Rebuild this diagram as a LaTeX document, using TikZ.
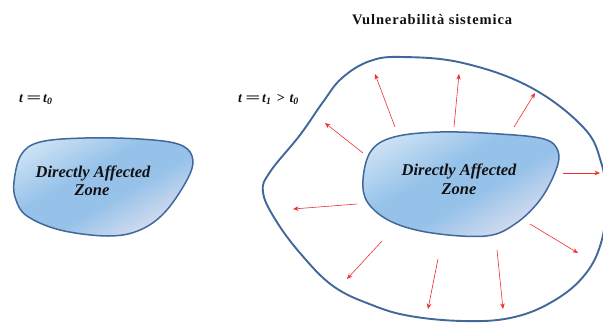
\documentclass[tikz,border=0pt]{standalone}
\usepackage{fontspec}
\usepackage{graphicx}
\setmainfont{Liberation Serif}
\newfontfamily\titlefont[LetterSpace=6]{Liberation Serif}
\usetikzlibrary{arrows.meta}

\definecolor{edgeblue}{HTML}{41689A}
\definecolor{zonelight}{HTML}{CDE2F4}
\definecolor{zonemid}{HTML}{96C2E9}
\definecolor{zonepale}{HTML}{E6E3F1}
\definecolor{spreadred}{RGB}{240,45,45}
\definecolor{inkblack}{HTML}{111111}

% light corner, a band of stronger blue, pale lavender corner
\pgfdeclarehorizontalshading{zonefill}{100bp}{
  color(0bp)=(zonelight); color(22bp)=(zonelight);
  color(42bp)=(zonemid); color(56bp)=(zonemid);
  color(78bp)=(zonepale); color(100bp)=(zonepale)}

\tikzset{
  zone/.style={draw=edgeblue, line width=1.5pt,
    shading=zonefill, shading angle=-60},
  boundary/.style={draw=edgeblue, line width=1.9pt},
  spread/.style={draw=spreadred, line width=0.6pt,
    -{Stealth[length=5.5pt,width=4.5pt]}},
  zonetext/.style={anchor=base, inner sep=0pt, text=inkblack,
    font=\fontsize{16.5}{20}\selectfont\bfseries\itshape},
  timelabel/.style={anchor=base west, inner sep=0pt, text=inkblack,
    font=\fontsize{14}{16}\selectfont\bfseries\itshape},
  titlelabel/.style={anchor=base west, inner sep=0pt, text=inkblack,
    font=\fontsize{14.5}{16}\titlefont\bfseries},
}
\newcommand{\wideeq}{\hspace{3pt}\scalebox{1.9}[1]{=}\hspace{2pt}}
\newcommand{\gtsign}{\hspace{5pt}>\hspace{5pt}}

\begin{document}
\begin{tikzpicture}[x=1pt,y=-1pt]
\useasboundingbox (0,0) rectangle (603,322);

% title
\node[titlelabel] (title) at (352,24) {Vulnerabilità sistemica};

% time labels
\node[timelabel] (tzero) at (19,102) {t\wideeq t\textsubscript{0}};
\node[timelabel] (tone) at (238,102) {t\wideeq t\textsubscript{1}\gtsign t\textsubscript{0}};

% outer boundary of the systemic vulnerability
\begin{scope}
  \clip (0,0) rectangle (603,322);
  \draw[boundary] plot[smooth cycle, tension=0.65] coordinates {
    (403,57) (463,63) (530,87) (583,127) (601,162) (606,200) (601,243)
    (583,277) (550,303) (510,318) (463,321) (410,316) (372,305) (333,286)
    (300,253) (275,219) (263,192) (270,172) (300,135) (323,102) (342,78)
    (370,61)};
\end{scope}

% directly affected zone at t0
\draw[zone] plot[smooth cycle, tension=0.6] coordinates {
  (14,182) (21,155) (40,142) (85,138) (140,139) (178,144) (192,156)
  (189,176) (166,211) (140,230) (108,236) (60,230) (27,216) (16,200)};
\node[zonetext] (zlA) at (93,177) {Directly Affected};
\node[zonetext] (zlB) at (92,195) {Zone};

% directly affected zone at t1
\draw[zone] plot[smooth cycle, tension=0.6] coordinates {
  (363,180) (371,151) (394,137) (440,132) (500,134) (544,139) (558,151)
  (556,170) (540,200) (515,224) (486,236) (432,233) (392,222) (368,203)};
\node[zonetext] (zrA) at (459,175) {Directly Affected};
\node[zonetext] (zrB) at (459,194) {Zone};

% spreading arrows
\foreach \i/\sx/\sy/\ex/\ey in {
  1/395/127/375/74, 2/454/127/459/74, 3/514/127/535/93,
  4/363/153/325/123, 5/357/204/293/209, 6/563/173/600/173,
  7/530/224/578/253, 8/382/241/347/279, 9/438/259/428/309,
  10/497/250/503/309} {
  \coordinate (s\i) at (\sx,\sy);
  \coordinate (e\i) at (\ex,\ey);
  \draw[spread] (s\i) -- (e\i);
}
\end{tikzpicture}
\end{document}
